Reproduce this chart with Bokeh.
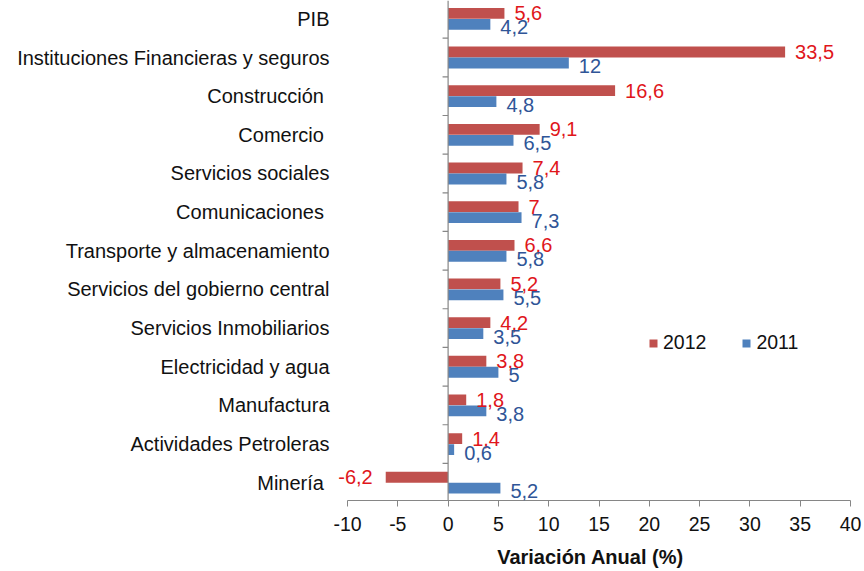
from bokeh.plotting import figure
from bokeh.models import (ColumnDataSource, Range1d, FixedTicker, Span, Legend, LegendItem, LabelSet)
from bokeh.core.properties import value
from bokeh.embed import file_html
from bokeh.resources import INLINE

categories = ["PIB", "Instituciones Financieras y seguros", "Construcción ", "Comercio ",
              "Servicios sociales", "Comunicaciones ", "Transporte y almacenamiento",
              "Servicios del gobierno central", "Servicios Inmobiliarios",
              "Electricidad y agua", "Manufactura", "Actividades Petroleras", "Minería "]
v2012 = [5.6, 33.5, 16.6, 9.1, 7.4, 7.0, 6.6, 5.2, 4.2, 3.8, 1.8, 1.4, -6.2]
v2011 = [4.2, 12.0, 4.8, 6.5, 5.8, 7.3, 5.8, 5.5, 3.5, 5.0, 3.8, 0.6, 5.2]
x_ticks = [-10, -5, 0, 5, 10, 15, 20, 25, 30, 35, 40]
series_names = ["2012", "2011"]

RED = "#C0504D"
BLUE = "#4F81BD"
RED_TXT = "#E0161B"
BLUE_TXT = "#2F5597"
GREY = "#868686"
FONT = "Liberation Sans"

n = len(categories)
idx = list(range(n))
half = 0.142
bar_h = 0.28

def fmt(v):
    return f"{v:g}".replace(".", ",")

def src(vals, shift, yoff):
    return ColumnDataSource(dict(
        y=[i + shift for i in idx],
        v=vals,
        zero=[0] * n,
        lbl=[fmt(v) for v in vals],
        align=["left" if v >= 0 else "right" for v in vals],
        xo=[10 if v >= 0 else -13 for v in vals],
        yo=[yoff] * n,
    ))

s12 = src(v2012, -half, 0)
s11 = src(v2011, half, -3)

# frame extends a little left of -10 so that the "-6,2" label is not clipped
p = figure(width=864, height=570, output_backend="svg", toolbar_location=None,
           x_range=Range1d(-11.69, 40), y_range=Range1d(12.46, -0.475),
           min_border_left=330, min_border_right=14, min_border_top=0, min_border_bottom=67)
p.outline_line_color = None
p.grid.visible = False
p.background_fill_color = "white"

r12 = p.hbar(y="y", left="zero", right="v", height=bar_h, source=s12,
             fill_color=RED, line_color=None)
r11 = p.hbar(y="y", left="zero", right="v", height=bar_h, source=s11,
             fill_color=BLUE, line_color=None)

for s, col in ((s12, RED_TXT), (s11, BLUE_TXT)):
    p.add_layout(LabelSet(x="v", y="y", text="lbl", source=s, text_align="align",
                          text_baseline="middle", x_offset="xo", y_offset="yo",
                          text_color=col, text_font=value(FONT), text_font_size="20px"))

# zero axis line with category boundary ticks
p.add_layout(Span(location=0, dimension="height", line_color=GREY, line_width=1.2))
bounds = [i + 0.5 for i in idx[:-1]]
p.segment(x0=[0] * len(bounds), x1=[-0.55] * len(bounds), y0=bounds, y1=bounds,
          line_color=GREY, line_width=1.2)

# x axis
xa = p.xaxis[0]
xa.ticker = FixedTicker(ticks=x_ticks)
xa.bounds = (x_ticks[0], x_ticks[-1])
xa.major_label_overrides = {t: str(t) for t in x_ticks}
xa.minor_tick_line_color = None
xa.axis_line_color = GREY
xa.major_tick_line_color = GREY
xa.major_tick_out = 6
xa.major_tick_in = 0
xa.major_label_text_font = FONT
xa.major_label_text_font_size = "19.5px"
xa.major_label_text_color = "#111111"
xa.major_label_standoff = 10
xa.axis_label = "Variación Anual (%)"
xa.axis_label_text_font = FONT
xa.axis_label_text_font_style = "bold"
xa.axis_label_text_font_size = "20px"
xa.axis_label_text_color = "#111111"
xa.axis_label_standoff = 12

# y axis (category labels)
ya = p.yaxis[0]
ya.ticker = FixedTicker(ticks=idx)
ya.major_label_overrides = {i: c for i, c in zip(idx, categories)}
ya.axis_line_color = None
ya.major_tick_line_color = None
ya.minor_tick_line_color = None
ya.major_tick_out = 0
ya.major_tick_in = 0
ya.major_label_standoff = 1
ya.major_label_text_font = FONT
ya.major_label_text_font_size = "20px"
ya.major_label_text_color = "#111111"

legend = Legend(items=[LegendItem(label=series_names[0], renderers=[r12]),
                       LegendItem(label=series_names[1], renderers=[r11])],
                location=(318, 146), orientation="horizontal")
legend.glyph_width = 10
legend.glyph_height = 10
legend.label_standoff = 5
legend.spacing = 35
legend.padding = 0
legend.margin = 0
legend.border_line_color = None
legend.background_fill_alpha = 0
legend.label_text_font = FONT
legend.label_text_font_size = "19.5px"
legend.label_text_color = "#111111"
p.add_layout(legend, "center")

open("out.html", "w").write(file_html(p, INLINE))
